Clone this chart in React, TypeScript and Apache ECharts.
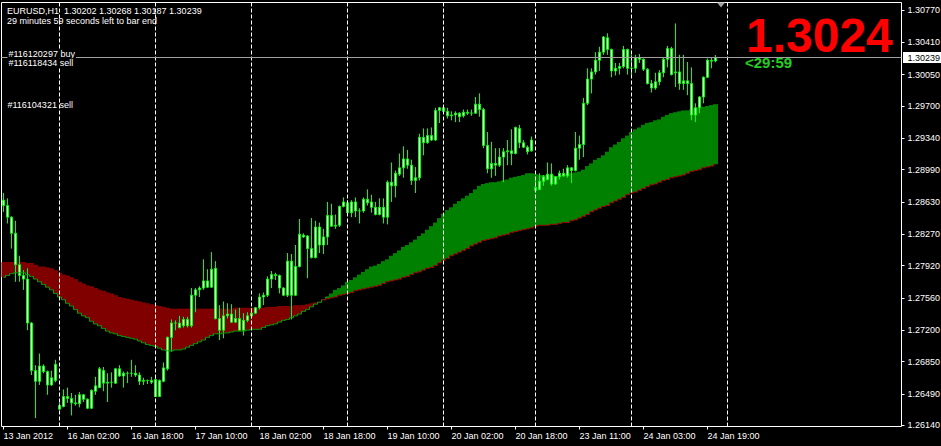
import React, { useEffect, useRef } from 'react';
import * as echarts from 'echarts';

const FONT = 'Liberation Sans';

// x-axis tick labels, one every 16 H1 bars
const tickLabels = ['13 Jan 2012', '16 Jan 02:00', '16 Jan 18:00', '17 Jan 10:00', '18 Jan 02:00', '18 Jan 18:00',
  '19 Jan 10:00', '20 Jan 02:00', '20 Jan 18:00', '23 Jan 11:00', '24 Jan 03:00', '24 Jan 19:00'];

// right price scale labels
const priceTicks = [1.3077, 1.3041, 1.3005, 1.297, 1.2934, 1.2899, 1.2863, 1.2827, 1.2792, 1.2756, 1.272, 1.2685, 1.2649, 1.2614];

// day separators (bar index of 00:00)
const separatorBars = [14, 38, 62, 86, 110, 133, 157, 181];

const totalSlots = 225;
const bidPrice = 1.30239;

// [open, close, low, high]
const candles = [
  [1.2865, 1.2859, 1.2852, 1.2873], [1.2859, 1.2846, 1.2839, 1.2867], [1.2846, 1.2828, 1.2811, 1.2847], [1.2828, 1.2793, 1.2774, 1.2842],
  [1.2793, 1.2781, 1.2774, 1.2803], [1.2781, 1.2777, 1.2765, 1.2787], [1.2777, 1.2728, 1.2720, 1.2789], [1.2728, 1.2675, 1.2670, 1.2729],
  [1.2675, 1.2663, 1.2622, 1.2681], [1.2663, 1.2680, 1.2659, 1.2694], [1.2680, 1.2674, 1.2672, 1.2682], [1.2674, 1.2659, 1.2648, 1.2675],
  [1.2659, 1.2667, 1.2658, 1.2675], [1.2664, 1.2682, 1.2662, 1.2687], [1.2636, 1.2632, 1.2631, 1.2639], [1.2635, 1.2646, 1.2634, 1.2654],
  [1.2646, 1.2644, 1.2639, 1.2656], [1.2644, 1.2639, 1.2625, 1.2650], [1.2639, 1.2638, 1.2636, 1.2648], [1.2638, 1.2648, 1.2634, 1.2651],
  [1.2648, 1.2643, 1.2640, 1.2649], [1.2643, 1.2633, 1.2632, 1.2644], [1.2633, 1.2653, 1.2632, 1.2654], [1.2652, 1.2658, 1.2648, 1.2668],
  [1.2656, 1.2677, 1.2656, 1.2679], [1.2675, 1.2661, 1.2652, 1.2679], [1.2661, 1.2662, 1.2640, 1.2672], [1.2662, 1.2662, 1.2656, 1.2673],
  [1.2661, 1.2677, 1.2660, 1.2678], [1.2677, 1.2669, 1.2668, 1.2681], [1.2669, 1.2672, 1.2656, 1.2674], [1.2672, 1.2672, 1.2661, 1.2674],
  [1.2672, 1.2672, 1.2668, 1.2687], [1.2672, 1.2670, 1.2668, 1.2681], [1.2670, 1.2663, 1.2659, 1.2673], [1.2663, 1.2664, 1.2659, 1.2667],
  [1.2664, 1.2664, 1.2660, 1.2665], [1.2664, 1.2662, 1.2660, 1.2668], [1.2665, 1.2646, 1.2646, 1.2668], [1.2646, 1.2664, 1.2646, 1.2665],
  [1.2663, 1.2678, 1.2662, 1.2684], [1.2677, 1.2712, 1.2675, 1.2713], [1.2712, 1.2728, 1.2696, 1.2732], [1.2728, 1.2728, 1.2720, 1.2731],
  [1.2728, 1.2723, 1.2722, 1.2736], [1.2725, 1.2732, 1.2723, 1.2735], [1.2732, 1.2725, 1.2723, 1.2735], [1.2725, 1.2759, 1.2723, 1.2767],
  [1.2759, 1.2765, 1.2740, 1.2767], [1.2765, 1.2767, 1.2757, 1.2769], [1.2767, 1.2775, 1.2765, 1.2799], [1.2775, 1.2768, 1.2767, 1.2788],
  [1.2768, 1.2788, 1.2767, 1.2807], [1.2789, 1.2733, 1.2732, 1.2797], [1.2733, 1.2720, 1.2709, 1.2748], [1.2720, 1.2736, 1.2711, 1.2752],
  [1.2736, 1.2738, 1.2733, 1.2750], [1.2738, 1.2729, 1.2728, 1.2749], [1.2729, 1.2733, 1.2728, 1.2743], [1.2733, 1.2720, 1.2719, 1.2745],
  [1.2720, 1.2731, 1.2714, 1.2739], [1.2731, 1.2736, 1.2729, 1.2740], [1.2736, 1.2739, 1.2733, 1.2745], [1.2739, 1.2745, 1.2738, 1.2746],
  [1.2745, 1.2757, 1.2743, 1.2761], [1.2757, 1.2759, 1.2748, 1.2762], [1.2759, 1.2777, 1.2757, 1.2780], [1.2777, 1.2782, 1.2767, 1.2786],
  [1.2782, 1.2781, 1.2776, 1.2784], [1.2781, 1.2767, 1.2761, 1.2782], [1.2767, 1.2759, 1.2758, 1.2768], [1.2759, 1.2797, 1.2757, 1.2806],
  [1.2797, 1.2759, 1.2732, 1.2805], [1.2759, 1.2791, 1.2758, 1.2815], [1.2791, 1.2827, 1.2790, 1.2844], [1.2826, 1.2824, 1.2823, 1.2828],
  [1.2825, 1.2811, 1.2778, 1.2826], [1.2811, 1.2801, 1.2800, 1.2845], [1.2801, 1.2835, 1.2800, 1.2842], [1.2835, 1.2815, 1.2806, 1.2840],
  [1.2815, 1.2824, 1.2805, 1.2833], [1.2824, 1.2848, 1.2815, 1.2863], [1.2848, 1.2836, 1.2835, 1.2861], [1.2836, 1.2837, 1.2833, 1.2849],
  [1.2837, 1.2858, 1.2835, 1.2859], [1.2858, 1.2863, 1.2857, 1.2868], [1.2862, 1.2851, 1.2849, 1.2865], [1.2851, 1.2863, 1.2846, 1.2865],
  [1.2863, 1.2853, 1.2846, 1.2868], [1.2853, 1.2853, 1.2839, 1.2856], [1.2853, 1.2866, 1.2851, 1.2868], [1.2866, 1.2862, 1.2859, 1.2877],
  [1.2863, 1.2857, 1.2851, 1.2871], [1.2857, 1.2849, 1.2848, 1.2863], [1.2849, 1.2857, 1.2848, 1.2867], [1.2857, 1.2846, 1.2839, 1.2867],
  [1.2846, 1.2885, 1.2838, 1.2887], [1.2885, 1.2881, 1.2863, 1.2907], [1.2881, 1.2895, 1.2868, 1.2898], [1.2894, 1.2901, 1.2892, 1.2917],
  [1.2901, 1.2911, 1.2890, 1.2925], [1.2911, 1.2904, 1.2900, 1.2921], [1.2904, 1.2887, 1.2882, 1.2910], [1.2887, 1.2890, 1.2873, 1.2902],
  [1.2890, 1.2935, 1.2887, 1.2939], [1.2935, 1.2929, 1.2915, 1.2945], [1.2929, 1.2937, 1.2928, 1.2945], [1.2937, 1.2932, 1.2931, 1.2946],
  [1.2932, 1.2965, 1.2931, 1.2968], [1.2965, 1.2968, 1.2951, 1.2969], [1.2968, 1.2964, 1.2963, 1.2970], [1.2964, 1.2959, 1.2956, 1.2968],
  [1.2959, 1.2960, 1.2954, 1.2964], [1.2960, 1.2962, 1.2952, 1.2964], [1.2962, 1.2958, 1.2952, 1.2963], [1.2959, 1.2963, 1.2957, 1.2966],
  [1.2963, 1.2962, 1.2960, 1.2966], [1.2962, 1.2962, 1.2959, 1.2966], [1.2962, 1.2972, 1.2961, 1.2980], [1.2972, 1.2966, 1.2958, 1.2984],
  [1.2966, 1.2926, 1.2923, 1.2968], [1.2926, 1.2900, 1.2895, 1.2941], [1.2900, 1.2906, 1.2890, 1.2930], [1.2906, 1.2904, 1.2892, 1.2923],
  [1.2904, 1.2913, 1.2902, 1.2923], [1.2913, 1.2919, 1.2885, 1.2923], [1.2919, 1.2920, 1.2904, 1.2932], [1.2920, 1.2917, 1.2904, 1.2944],
  [1.2917, 1.2946, 1.2916, 1.2947], [1.2945, 1.2929, 1.2923, 1.2949], [1.2929, 1.2924, 1.2923, 1.2932], [1.2924, 1.2919, 1.2916, 1.2926],
  [1.2920, 1.2932, 1.2919, 1.2936], [1.2879, 1.2876, 1.2874, 1.2888], [1.2877, 1.2886, 1.2876, 1.2895], [1.2886, 1.2891, 1.2881, 1.2893],
  [1.2888, 1.2894, 1.2887, 1.2907], [1.2894, 1.2883, 1.2881, 1.2906], [1.2883, 1.2891, 1.2882, 1.2892], [1.2891, 1.2895, 1.2888, 1.2898],
  [1.2895, 1.2892, 1.2891, 1.2900], [1.2892, 1.2901, 1.2890, 1.2904], [1.2901, 1.2898, 1.2884, 1.2902], [1.2898, 1.2923, 1.2897, 1.2941],
  [1.2923, 1.2927, 1.2910, 1.2937], [1.2927, 1.2973, 1.2913, 1.2979], [1.2973, 1.3000, 1.2971, 1.3012], [1.3000, 1.3008, 1.2984, 1.3012],
  [1.3008, 1.3021, 1.3005, 1.3030], [1.3021, 1.3030, 1.3009, 1.3036], [1.3030, 1.3047, 1.3027, 1.3048], [1.3046, 1.3033, 1.3027, 1.3051],
  [1.3033, 1.3009, 1.3002, 1.3034], [1.3009, 1.3012, 1.3004, 1.3018], [1.3012, 1.3014, 1.3005, 1.3018], [1.3014, 1.3033, 1.3012, 1.3037],
  [1.3033, 1.3012, 1.3005, 1.3034], [1.3012, 1.3012, 1.3004, 1.3027], [1.3012, 1.3024, 1.3007, 1.3027], [1.3024, 1.3022, 1.3018, 1.3028],
  [1.3022, 1.3011, 1.3009, 1.3023], [1.3011, 1.2995, 1.2994, 1.3012], [1.2995, 1.2990, 1.2985, 1.2999], [1.2990, 1.2997, 1.2988, 1.3007],
  [1.2997, 1.3007, 1.2993, 1.3010], [1.3007, 1.3022, 1.3002, 1.3024], [1.3022, 1.3034, 1.3013, 1.3037], [1.3034, 1.3005, 1.3004, 1.3036],
  [1.3007, 1.3008, 1.2991, 1.3062], [1.3008, 1.2995, 1.2988, 1.3027], [1.2995, 1.2998, 1.2988, 1.3027], [1.2998, 1.2995, 1.2982, 1.3019],
  [1.2995, 1.2960, 1.2954, 1.3013], [1.2960, 1.2968, 1.2952, 1.2973], [1.2968, 1.2980, 1.2962, 1.2981], [1.2980, 1.3002, 1.2973, 1.3003],
  [1.3002, 1.3021, 1.3001, 1.3023], [1.3021, 1.3020, 1.3012, 1.3024], [1.30202, 1.30239, 1.30187, 1.30268],
];

// fast moving average (one value per bar)
const fastMA = [
  1.2779, 1.2781, 1.2783, 1.2784, 1.2784, 1.2784, 1.2782, 1.2780, 1.2777, 1.2774,
  1.2771, 1.2768, 1.2765, 1.2761, 1.2757, 1.2754, 1.2750, 1.2747, 1.2743, 1.2739,
  1.2736, 1.2734, 1.2730, 1.2727, 1.2725, 1.2722, 1.2719, 1.2717, 1.2716, 1.2714,
  1.2713, 1.2712, 1.2711, 1.2710, 1.2708, 1.2706, 1.2704, 1.2703, 1.2702, 1.2700,
  1.2698, 1.2697, 1.2697, 1.2698, 1.2698, 1.2699, 1.2701, 1.2703, 1.2705, 1.2707,
  1.2709, 1.2712, 1.2714, 1.2716, 1.2716, 1.2717, 1.2717, 1.2718, 1.2719, 1.2719,
  1.2719, 1.2720, 1.2721, 1.2721, 1.2721, 1.2723, 1.2725, 1.2726, 1.2727, 1.2729,
  1.2731, 1.2732, 1.2734, 1.2736, 1.2738, 1.2741, 1.2743, 1.2746, 1.2749, 1.2751,
  1.2754, 1.2757, 1.2761, 1.2765, 1.2767, 1.2770, 1.2774, 1.2776, 1.2779, 1.2782,
  1.2785, 1.2788, 1.2791, 1.2792, 1.2794, 1.2797, 1.2799, 1.2803, 1.2806, 1.2809,
  1.2813, 1.2815, 1.2818, 1.2821, 1.2825, 1.2828, 1.2832, 1.2836, 1.2840, 1.2845,
  1.2850, 1.2854, 1.2857, 1.2861, 1.2864, 1.2867, 1.2870, 1.2873, 1.2877, 1.2881,
  1.2883, 1.2884, 1.2885, 1.2885, 1.2886, 1.2887, 1.2888, 1.2890, 1.2891, 1.2892,
  1.2893, 1.2895, 1.2895, 1.2894, 1.2893, 1.2893, 1.2893, 1.2893, 1.2892, 1.2892,
  1.2893, 1.2894, 1.2895, 1.2896, 1.2897, 1.2899, 1.2903, 1.2906, 1.2910, 1.2912,
  1.2915, 1.2919, 1.2924, 1.2927, 1.2930, 1.2934, 1.2937, 1.2941, 1.2944, 1.2946,
  1.2949, 1.2951, 1.2952, 1.2954, 1.2955, 1.2958, 1.2960, 1.2962, 1.2963, 1.2964,
  1.2965, 1.2965, 1.2966, 1.2967, 1.2968, 1.2969, 1.2970, 1.2971, 1.2972,
];

// slow moving average (one value per bar)
const slowMA = [
  1.2796, 1.2796, 1.2796, 1.2796, 1.2796, 1.2796, 1.2795, 1.2795, 1.2793, 1.2791,
  1.2791, 1.2790, 1.2789, 1.2787, 1.2784, 1.2782, 1.2781, 1.2779, 1.2777, 1.2774,
  1.2772, 1.2770, 1.2769, 1.2767, 1.2765, 1.2764, 1.2762, 1.2761, 1.2759, 1.2757,
  1.2756, 1.2755, 1.2754, 1.2753, 1.2752, 1.2751, 1.2750, 1.2749, 1.2748, 1.2747,
  1.2746, 1.2745, 1.2744, 1.2744, 1.2744, 1.2744, 1.2744, 1.2744, 1.2744, 1.2744,
  1.2744, 1.2744, 1.2744, 1.2744, 1.2744, 1.2744, 1.2744, 1.2744, 1.2745, 1.2745,
  1.2745, 1.2745, 1.2745, 1.2745, 1.2745, 1.2745, 1.2746, 1.2746, 1.2746, 1.2747,
  1.2747, 1.2747, 1.2747, 1.2748, 1.2748, 1.2748, 1.2749, 1.2750, 1.2751, 1.2752,
  1.2754, 1.2755, 1.2756, 1.2757, 1.2759, 1.2760, 1.2761, 1.2762, 1.2764, 1.2765,
  1.2766, 1.2767, 1.2768, 1.2769, 1.2770, 1.2772, 1.2774, 1.2775, 1.2776, 1.2777,
  1.2779, 1.2780, 1.2782, 1.2784, 1.2785, 1.2787, 1.2789, 1.2790, 1.2792, 1.2795,
  1.2798, 1.2800, 1.2803, 1.2805, 1.2807, 1.2809, 1.2811, 1.2814, 1.2816, 1.2818,
  1.2820, 1.2821, 1.2822, 1.2823, 1.2825, 1.2826, 1.2827, 1.2829, 1.2830, 1.2831,
  1.2832, 1.2833, 1.2834, 1.2836, 1.2837, 1.2837, 1.2837, 1.2838, 1.2838, 1.2839,
  1.2840, 1.2840, 1.2842, 1.2843, 1.2845, 1.2847, 1.2849, 1.2852, 1.2854, 1.2856,
  1.2858, 1.2859, 1.2862, 1.2864, 1.2866, 1.2868, 1.2871, 1.2873, 1.2874, 1.2876,
  1.2878, 1.2880, 1.2882, 1.2883, 1.2885, 1.2887, 1.2888, 1.2890, 1.2891, 1.2892,
  1.2893, 1.2895, 1.2897, 1.2898, 1.2899, 1.2901, 1.2902, 1.2903, 1.2905,
];

export default function App() {
  const ref = useRef<HTMLDivElement>(null);

  useEffect(() => {
    if (!ref.current) return;
    const chart = echarts.init(ref.current, null, { renderer: 'svg' });

    const categories = Array.from({ length: totalSlots }, (_, i) => String(i));
    const bandBase = fastMA.map((f, i) => Math.min(f, slowMA[i]));
    const redBand = fastMA.map((f, i) => (slowMA[i] > f ? slowMA[i] - f : 0));
    const greenBand = fastMA.map((f, i) => (f > slowMA[i] ? f - slowMA[i] : 0));
    const fastEdge = fastMA.map((f, i) => (f <= slowMA[i] || (i > 0 && fastMA[i - 1] <= slowMA[i - 1]) ? f : null));
    const slowEdge = slowMA.map((s, i) => (s <= fastMA[i] || (i > 0 && slowMA[i - 1] <= fastMA[i - 1]) ? s : null));

    const isTick = (idx: number) => idx % 16 === 0 && idx / 16 < tickLabels.length;

    const txt = (text: string, x: number, y: number, font: string, fill: string, lineHeight: number, extra: any = {}) => ({
      type: 'text',
      x,
      y,
      silent: true,
      z: 100,
      style: {
        text,
        font,
        fill,
        lineHeight,
        align: 'left',
        textAlign: 'left',
        verticalAlign: 'middle',
        textVerticalAlign: 'middle',
        ...extra,
      },
    });

    const option: any = {
      animation: false,
      backgroundColor: '#000000',
      textStyle: { fontFamily: FONT },
      grid: {
        left: 1.5,
        right: 39.5,
        top: 2.5,
        bottom: 19.5,
        show: true,
        borderColor: '#ffffff',
        borderWidth: 1,
        backgroundColor: 'transparent',
        containLabel: false,
        outerBoundsMode: 'none',
      },
      xAxis: {
        type: 'category',
        data: categories,
        boundaryGap: true,
        axisLine: { show: false },
        splitLine: { show: false },
        axisTick: {
          show: true,
          alignWithLabel: true,
          interval: (idx: number) => isTick(idx),
          length: 3,
          lineStyle: { color: '#ffffff' },
        },
        axisLabel: {
          interval: (idx: number) => isTick(idx),
          formatter: (_v: string, idx: number) => (isTick(idx) ? tickLabels[idx / 16] : ''),
          align: 'left',
          color: '#ffffff',
          fontFamily: FONT,
          fontSize: 9,
          margin: 5,
        },
      },
      yAxis: {
        type: 'value',
        position: 'right',
        min: 1.261265,
        max: 1.308536,
        scale: true,
        splitLine: { show: false },
        axisLine: { show: false },
        axisTick: {
          show: true,
          length: 3,
          customValues: priceTicks,
          lineStyle: { color: '#ffffff' },
        },
        axisLabel: {
          customValues: priceTicks,
          formatter: (v: number) => v.toFixed(5),
          color: '#ffffff',
          fontFamily: FONT,
          fontSize: 9,
          margin: 6,
        },
      },
      series: [
        { type: 'bar', stack: 'band', data: bandBase, barWidth: 5, silent: true, itemStyle: { color: 'rgba(0,0,0,0)' } },
        { type: 'bar', stack: 'band', data: redBand, barWidth: 5, silent: true, itemStyle: { color: '#800000' } },
        { type: 'bar', stack: 'band', data: greenBand, barWidth: 5, silent: true, itemStyle: { color: '#008000' } },
        {
          type: 'line', data: fastEdge, step: 'middle', showSymbol: false, silent: true,
          lineStyle: { color: '#00a000', width: 1 },
        },
        {
          type: 'line', data: slowEdge, step: 'middle', showSymbol: false, silent: true,
          lineStyle: { color: '#a00000', width: 1 },
        },
        {
          type: 'candlestick',
          data: candles,
          barWidth: 2,
          silent: true,
          itemStyle: {
            color: '#ffffff',
            color0: '#ffffff',
            borderColor: '#00ff00',
            borderColor0: '#00ff00',
            borderColorDoji: '#00ff00',
            borderWidth: 1,
          },
          markLine: {
            silent: true,
            symbol: 'none',
            label: { show: false },
            data: separatorBars.map((b) => ({
              xAxis: String(b),
              lineStyle: { color: '#ffffff', type: [4, 2], width: 1 },
            })),
          },
        },
        {
          // bid price line
          type: 'line',
          data: [],
          silent: true,
          markLine: {
            silent: true,
            symbol: 'none',
            precision: 5,
            label: { show: false },
            lineStyle: { color: '#a0a0a0', type: 'solid', width: 1 },
            data: [{ yAxis: bidPrice }],
          },
        },
      ],
      graphic: [
        txt('EURUSD,H1  1.30202 1.30268 1.30187 1.30239', 7, 10.7, `9px "${FONT}"`, '#ffffff', 9),
        txt('29 minutes 59 seconds left to bar end', 7, 20.7, `9px "${FONT}"`, '#ffffff', 9),
        txt('#116120297 buy', 7.5, 53.7, `9px "${FONT}"`, '#ffffff', 9, { backgroundColor: '#000000', padding: [0, 1, 0, 1] }),
        txt('#116118434 sell', 7.5, 62.7, `9px "${FONT}"`, '#ffffff', 9, { backgroundColor: '#000000', padding: [0, 1, 0, 1] }),
        txt('#116104321 sell', 7.5, 105.3, `9px "${FONT}"`, '#ffffff', 9),
        txt('1.3024', 746, 35, `bold 48px "${FONT}"`, '#ff0000', 34),
        txt('<29:59', 745, 62.5, `bold 15px "${FONT}"`, '#22d022', 12),
        {
          type: 'rect', silent: true, z: 100,
          shape: { x: 903, y: 52, width: 38, height: 11 },
          style: { fill: '#ffffff' },
        },
        txt('1.30239', 907.5, 57.5, `9px "${FONT}"`, '#000000', 9),
        {
          type: 'polygon', silent: true, z: 100,
          shape: { points: [[717, 2.5], [725, 2.5], [721, 7.5]] },
          style: { fill: '#a0a0a0' },
        },
      ],
    };

    chart.setOption(option);
    return () => chart.dispose();
  }, []);

  return (
    <div
      ref={ref}
      style={{ position: 'fixed', left: 0, top: 0, width: 941, height: 446, background: '#000000' }}
    />
  );
}
